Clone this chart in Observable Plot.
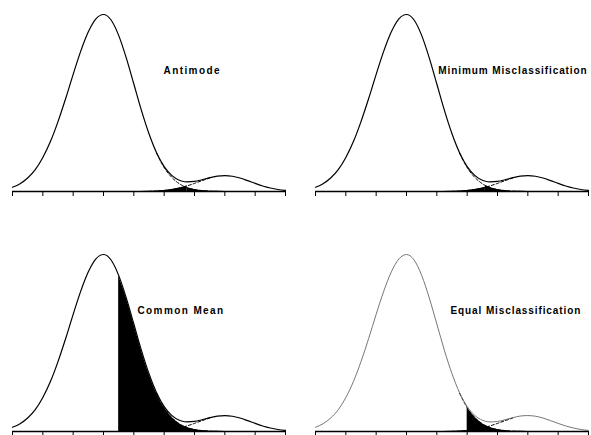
<!DOCTYPE html>
<html><head><meta charset="utf-8">
<script src="https://cdn.jsdelivr.net/npm/d3@7"></script>
<script src="https://cdn.jsdelivr.net/npm/@observablehq/plot@0.6"></script>
<style>
body{margin:0;background:#fff}
svg{display:block}
.lbl text{letter-spacing:1.4px}
.lbl2 text{letter-spacing:0.9px}
</style>
</head><body><div id="chart"></div>
<script>
// x positions along the scale (tick units)
const xGrid = [0, 0.25, 0.5, 0.75, 1, 1.25, 1.5, 1.75, 2, 2.25, 2.5, 2.75, 3, 3.25, 3.5, 3.75, 4, 4.25, 4.5, 4.75, 5, 5.25, 5.5, 5.6, 5.75, 6, 6.25, 6.5, 6.75, 7, 7.25, 7.5, 7.75, 8, 8.25, 8.5, 8.75, 9];
// density of the large group (peak = 100)
const majorGroup = [2.4, 4.4, 7.6, 12.3, 19.2, 28.2, 39.5, 52.4, 66.2, 79.3, 90.2, 97.5, 100, 96.9, 88.2, 75.5, 60.7, 45.8, 32.5, 21.6, 13.5, 8.0, 4.4, 3.4, 2.3, 1.1, 0.5, 0.2, 0.1, 0, 0, 0, 0, 0, 0, 0, 0, 0];
// density of the small group
const minorGroup = [0, 0, 0, 0, 0, 0, 0, 0, 0, 0, 0, 0, 0, 0, 0, 0, 0.02, 0.05, 0.13, 0.29, 0.6, 1.13, 1.97, 2.39, 3.13, 4.58, 6.15, 7.6, 8.63, 9.0, 8.63, 7.6, 6.15, 4.58, 3.13, 1.97, 1.13, 0.6];
// panels and their cut-off points
const panelNames = ["Antimode", "Minimum Misclassification", "Common Mean", "Equal Misclassification"];
const cutoffs = [5.75, 5.6, 3.5, 5.0];
const tickValues = [0, 1, 2, 3, 4, 5, 6, 7, 8, 9];

const labelX = [4.98, 4.05, 4.12, 4.45];
const panels = panelNames.map((name, i) => ({name, col: i % 2, row: Math.floor(i / 2), cut: cutoffs[i], lx: labelX[i]}));
const rows = [];
panels.forEach(p => xGrid.forEach((x, j) => rows.push({
  panel: p.name, col: p.col, row: p.row, x, cut: p.cut,
  major: majorGroup[j], minor: minorGroup[j], mix: majorGroup[j] + minorGroup[j]
})));
const faded = "Equal Misclassification";
const leftShade = rows.filter(d => d.x <= d.cut && d.x >= 3.5);
const rightShade = rows.filter(d => d.x >= d.cut && d.x <= 7.25);
const dashMajor = rows.filter(d => d.x >= 4.75 && d.x <= 6.75);
const dashMinor = rows.filter(d => d.x >= 4.5 && d.x <= 6.5);
const fac = {fx: "col", fy: "row"};
const txt = {...fac, x: "lx", y: 68, text: "name", textAnchor: "start", fontWeight: "bold", fontSize: 10, fontFamily: "Liberation Sans, Arial, sans-serif", fill: "black"};

const chart = Plot.plot({
  width: 591, height: 435,
  marginLeft: 12, marginRight: 3, marginTop: 14, marginBottom: 4,
  fx: {axis: null, paddingInner: 0.1, paddingOuter: 0},
  fy: {axis: null, paddingInner: 0.2625, paddingOuter: 0},
  x: {domain: [0, 9], axis: null},
  y: {domain: [0, 100], axis: null},
  marks: [
    Plot.areaY(leftShade, {...fac, x: "x", y: "minor", fill: "black", curve: "monotone-x"}),
    Plot.areaY(rightShade, {...fac, x: "x", y: "major", fill: "black", curve: "monotone-x"}),
    Plot.lineY(dashMajor, {...fac, x: "x", y: "major", stroke: "black", strokeWidth: 1, strokeDasharray: "3,2", curve: "monotone-x"}),
    Plot.lineY(dashMinor, {...fac, x: "x", y: "minor", stroke: "black", strokeWidth: 1, strokeDasharray: "3,2", curve: "monotone-x"}),
    Plot.lineY(rows.filter(d => d.panel !== faded), {...fac, x: "x", y: "mix", stroke: "black", strokeWidth: 1.2, curve: "monotone-x"}),
    Plot.lineY(rows.filter(d => d.panel === faded), {...fac, x: "x", y: "mix", stroke: "#666", strokeWidth: 0.9, curve: "monotone-x"}),
    Plot.ruleY([0], {stroke: "black", strokeWidth: 1.3}),
    Plot.axisX({ticks: tickValues, tickSize: 5, tickFormat: () => "", label: null, facetAnchor: null, strokeWidth: 1}),
    Plot.text(panels.filter(p => p.col === 0), {...txt, className: "lbl"}),
    Plot.text(panels.filter(p => p.col === 1), {...txt, className: "lbl2"})
  ]
});
document.getElementById("chart").appendChild(chart);
</script>
</body></html>
